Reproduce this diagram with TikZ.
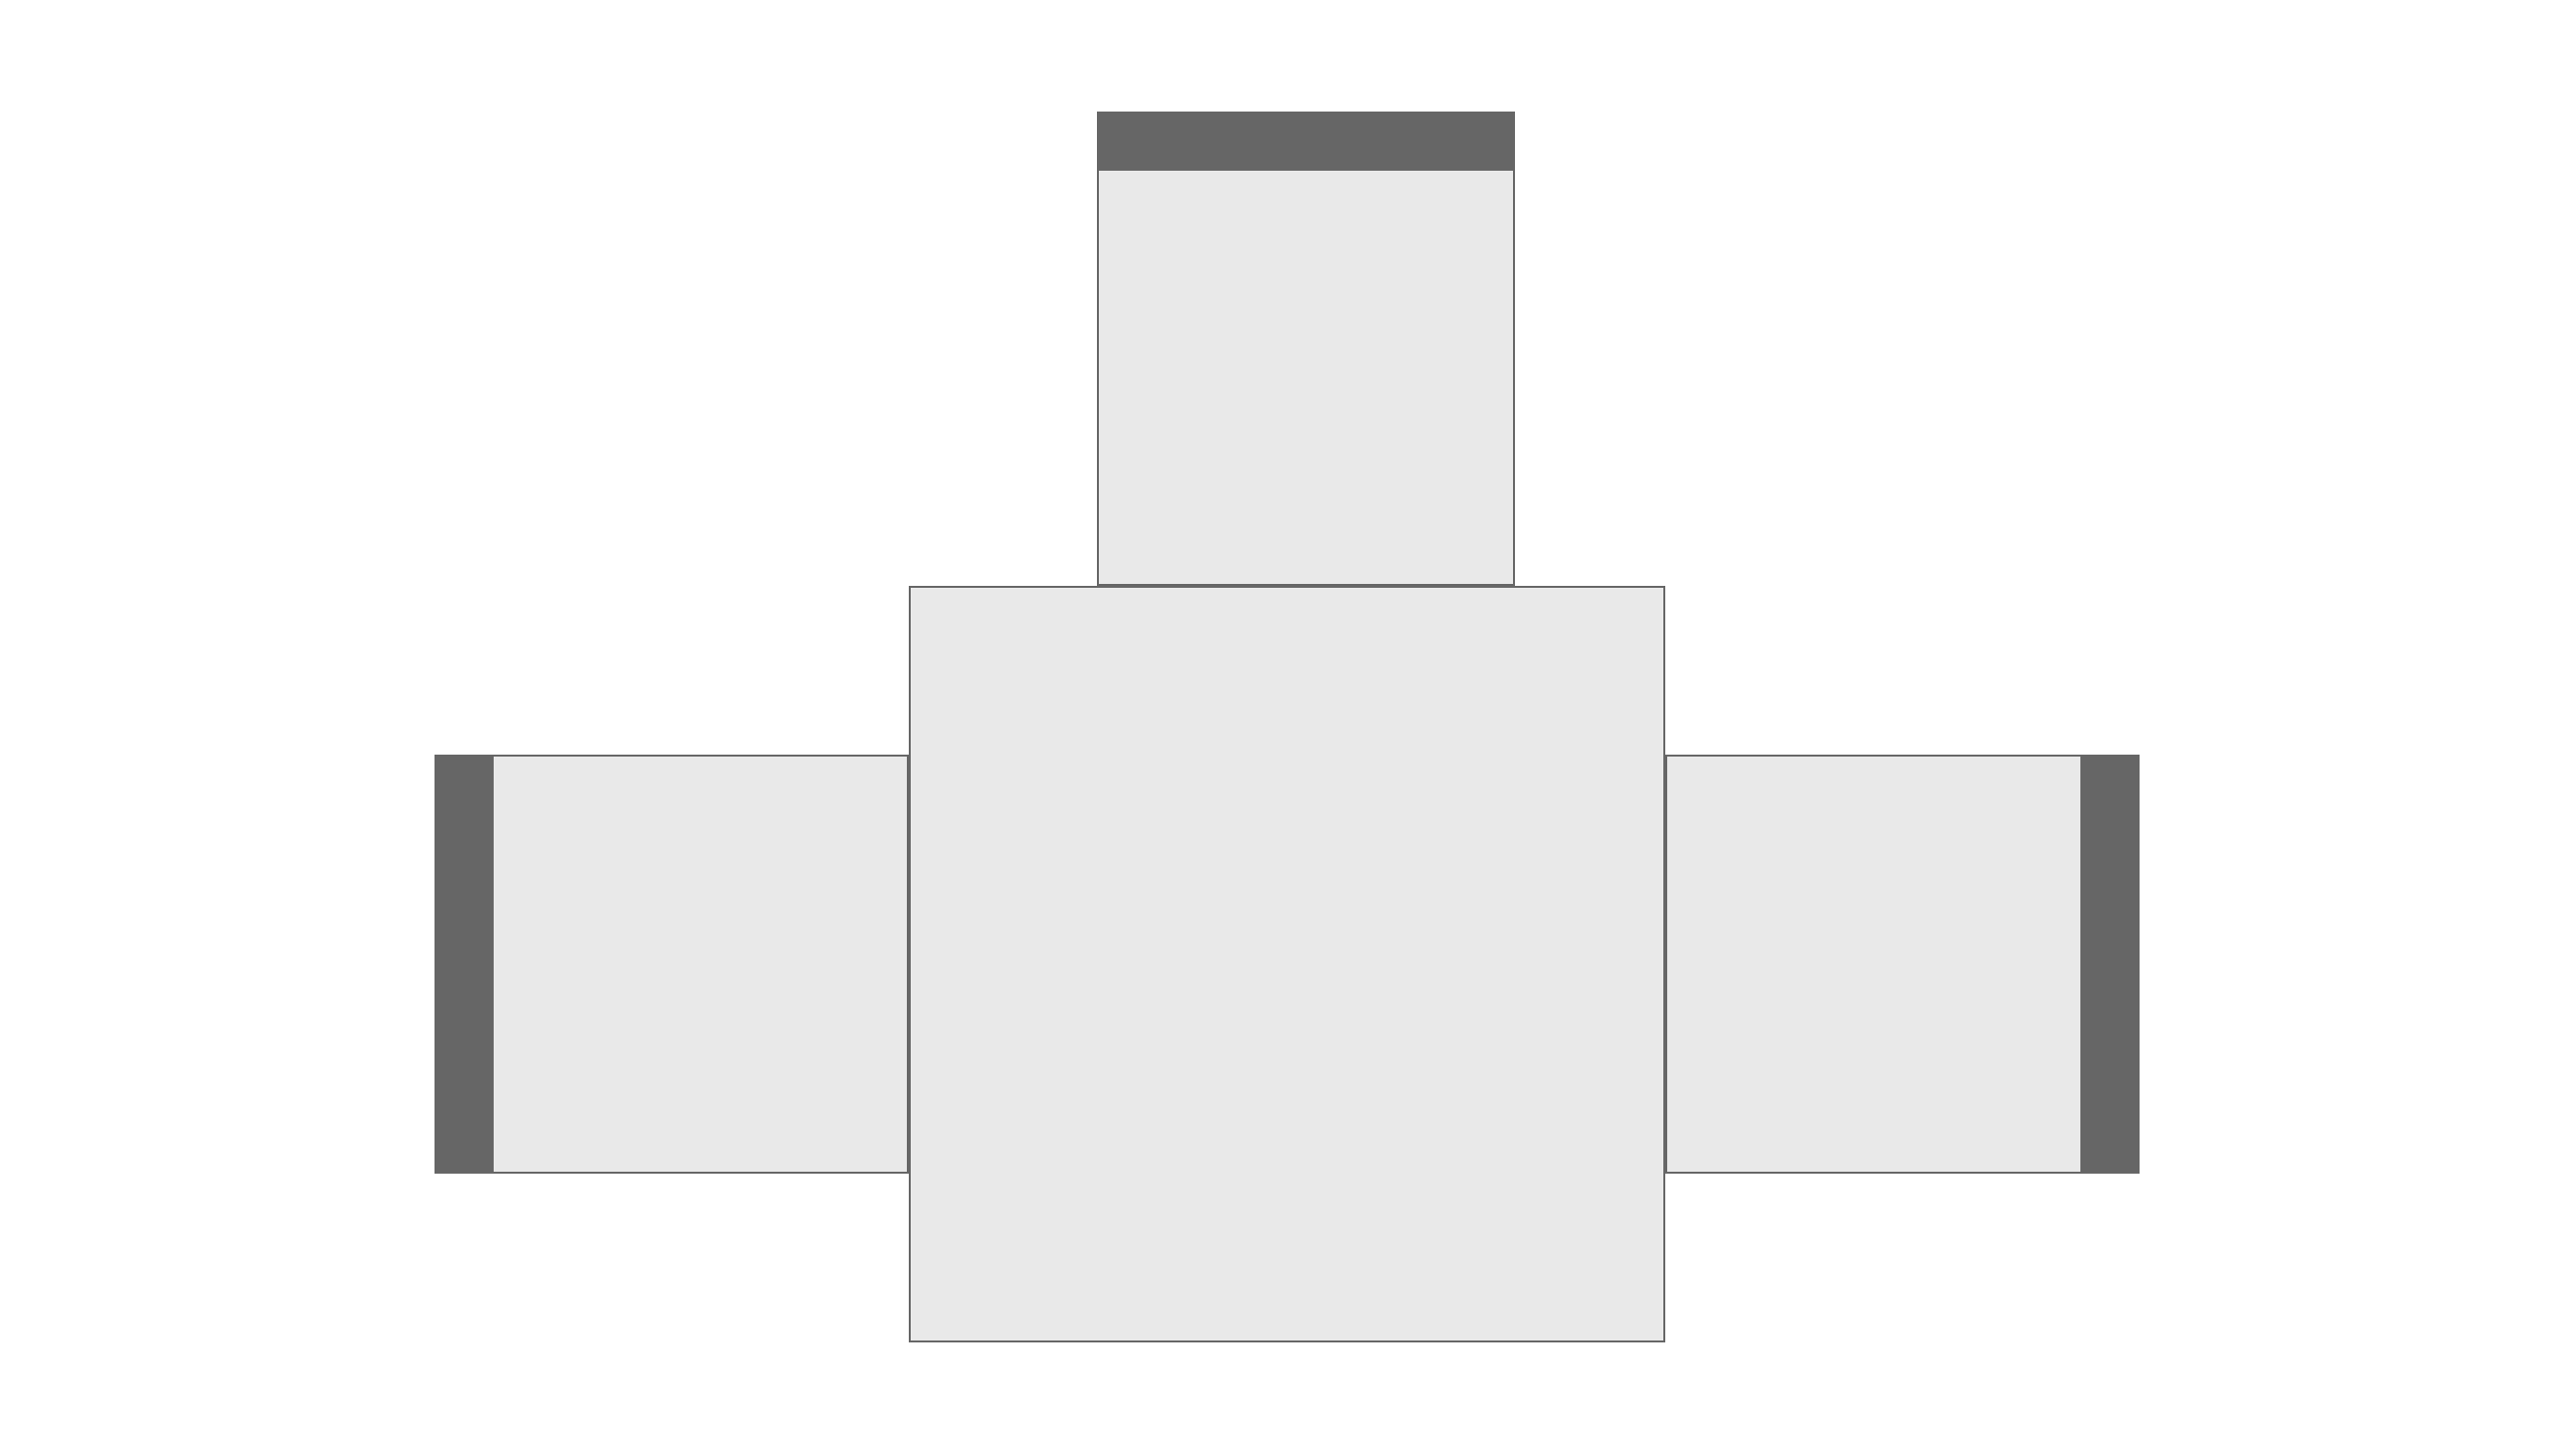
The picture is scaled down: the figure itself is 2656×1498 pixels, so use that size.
\documentclass[tikz,border=0pt]{standalone}
\usepackage{tikz}
\definecolor{edgegray}{HTML}{666666}
\definecolor{boxfill}{HTML}{E9E9E9}
\tikzset{
  panel/.style={draw=edgegray, fill=boxfill, line width=0.02cm, rectangle, inner sep=0pt, outer sep=0pt},
  bar/.style={fill=edgegray, draw=none, rectangle, inner sep=0pt, outer sep=0pt}
}
\begin{document}
\begin{tikzpicture}[x=0.01cm, y=-0.01cm]
\useasboundingbox[fill=white] (0,0) rectangle (2656,1498);
% top panel
\node[panel, minimum width=4.29cm, minimum height=4.87cm] (top) at (1346.5,359.5) {};
\node[bar, minimum width=4.31cm, minimum height=0.60cm] (topbar) at (1346.5,146) {};
% central panel
\node[panel, minimum width=7.78cm, minimum height=7.78cm] (center) at (1327,994) {};
% left panel
\node[panel, minimum width=4.87cm, minimum height=4.30cm] (left) at (692.5,994) {};
\node[bar, minimum width=0.60cm, minimum height=4.32cm] (leftbar) at (479,994) {};
% right panel
\node[panel, minimum width=4.87cm, minimum height=4.30cm] (right) at (1961.5,994) {};
\node[bar, minimum width=0.60cm, minimum height=4.32cm] (rightbar) at (2175,994) {};
\end{tikzpicture}
\end{document}
